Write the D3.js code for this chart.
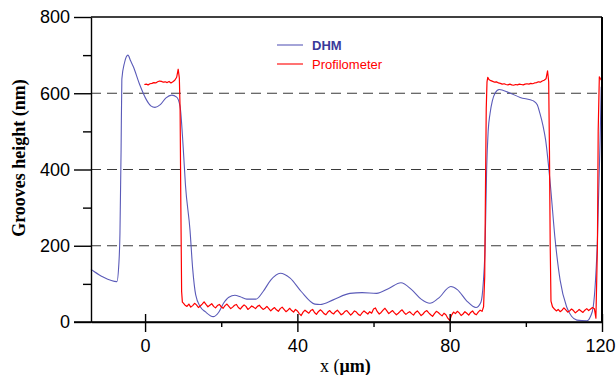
<!DOCTYPE html>
<html>
<head>
<meta charset="utf-8">
<script src="https://cdn.jsdelivr.net/npm/d3@7"></script>
<style>
  body { margin: 0; background: #fff; }
  svg { display: block; }
</style>
</head>
<body>
<div id="chart"></div>
<script>
// DHM trace (x in um, height in nm)
const dhmX = [-14.2, -13.9, -11, -7.4, -6.9, -6.6, -6.3, -6.1, -5.4, -4.5, -3.8, -3.1, -1.5, 0.4, 1.5, 2.6, 4.0, 5.5, 7.0, 8.3, 9.2, 10.0, 10.6,
  11.8, 12.5, 13.3, 14.5, 15.8, 17.9, 19.3, 20.6, 22, 23.6, 25, 26.7, 29.1, 31, 33, 35.5, 38.1, 41, 44.6, 46, 49.4, 53.8, 57, 60.8,
  64, 67.2, 70, 72.5, 74.8, 77, 80.3, 82, 84.5, 86.9, 88.2, 88.8, 89.3, 89.7, 90.1, 90.6, 91.2, 91.9, 93, 95.5, 98.5, 102, 103.0,
  103.7, 104.5, 105.2, 106.4, 107.7, 109, 110.7, 112, 113.4, 116, 117.0, 117.7, 118.3, 118.8, 119.5, 119.8];
const dhmY = [138, 136, 118, 106, 150, 230, 450, 637, 680, 700, 685, 670, 625, 582, 567, 563, 570, 588, 595, 590, 565, 460, 360,
  241, 140, 71, 40, 27, 14, 25, 49, 65, 70, 66, 60, 60, 80, 110, 128, 115, 80, 47, 46, 58, 75, 77, 75,
  88, 103, 85, 60, 49, 62, 93, 85, 55, 38, 52, 100, 199, 399, 500, 547, 580, 600, 610, 602, 589, 580, 570,
  547, 515, 477, 364, 215, 110, 40, 15, 5, 3, 15, 40, 110, 215, 477, 617];

// Profilometer trace: sampled runs (start x, step, heights) plus the steep edges
const profStep = 0.5;
const profPlateau1 = { start: -0.2, values: [623, 624, 622, 625, 626, 628, 627, 630, 632, 631, 629, 630, 628, 631, 627, 630, 634, 642] };
const profEdge1X = [8.7, 9.0, 9.2, 9.4, 9.6, 9.8];
const profEdge1Y = [663, 640, 560, 300, 80, 52];
const profFloor1 = { start: 10, values: [
  50, 44, 41, 47, 39, 43, 49, 45, 38, 42, 47, 53, 46, 40, 44, 48, 41, 37, 43, 46,
  40, 36, 43, 47, 41, 35, 39, 44, 46, 38, 34, 40, 45, 41, 33, 37, 42, 39, 35, 41,
  44, 38, 33, 36, 41, 35, 29, 34, 38, 32, 28, 35, 39, 33, 27, 31, 36, 30, 26, 33,
  29, 22, 17, 26, 31, 27, 23, 30, 33, 25, 20, 27, 32, 28, 22, 19, 26, 30, 24, 21,
  27, 31, 25, 19, 22, 28, 30, 24, 18, 23, 29, 26, 20, 17, 24, 29, 25, 21, 27, 23,
  34, 37, 27, 21, 25, 31, 36, 29, 22, 26, 30, 24, 19, 23, 28, 32, 25, 20, 24, 27,
  22, 18, 25, 29, 23, 17, 21, 27, 30, 24, 19, 15, 22, 28, 25, 20, 16, 23, 19, 10,
  4, 18, 26, 22, 28, 24, 17, 21, 27, 23, 18, 25, 29, 22, 19, 26, 31, 28] };
const profEdge2X = [88.9, 89.2, 89.4, 89.6, 89.8, 90.0];
const profEdge2Y = [40, 120, 350, 560, 630, 642];
const profPlateau2 = { start: 90.3, values: [636, 633, 631, 629, 630, 627, 626, 624, 625, 623, 622, 624, 622, 621, 623, 622,
  624, 623, 622, 624, 625, 624, 626, 625, 627, 628, 630, 629, 632, 634, 638] };
const profEdge3X = [105.7, 106.0, 106.2, 106.4, 106.6];
const profEdge3Y = [659, 630, 450, 200, 55];
const profFloor2 = { start: 107, values: [40, 34, 29, 33, 27, 31, 37, 32, 26, 29, 34, 30, 24, 28, 33, 29, 25, 31, 35, 30, 34, 38] };
const profEdge4X = [118.0, 118.4, 118.8, 119.0, 119.3, 119.6, 120];
const profEdge4Y = [35, 10, 200, 500, 643, 638, 632];

const yMajor = [0, 200, 400, 600, 800];
const yMinor = [100, 300, 500, 700];
const yGrid = [200, 400, 600];
const xMajor = [0, 40, 80, 120];
const xMinor = [20, 60, 100];
const seriesNames = ['DHM', 'Profilometer'];
const seriesColors = ['#5a5ab8', '#ff0000'];

const width = 616, height = 375;
const margin = { top: 17, right: 14, bottom: 53, left: 91 };

const svg = d3.select('#chart').append('svg')
  .attr('width', width)
  .attr('height', height);

const x = d3.scaleLinear().domain([-14.2, 120]).range([margin.left, width - margin.right]);
const y = d3.scaleLinear().domain([0, 800]).range([height - margin.bottom, margin.top]);

function run(r) {
  return r.values.map((v, i) => [r.start + i * profStep, v]);
}
function pairs(xs, ys) {
  return xs.map((v, i) => [v, ys[i]]);
}

const dhm = pairs(dhmX, dhmY);
const prof = [].concat(
  run(profPlateau1), pairs(profEdge1X, profEdge1Y), run(profFloor1), pairs(profEdge2X, profEdge2Y),
  run(profPlateau2), pairs(profEdge3X, profEdge3Y), run(profFloor2), pairs(profEdge4X, profEdge4Y));

// dashed grid
svg.selectAll('.y-grid')
  .data(yGrid)
  .enter()
  .append('line')
  .attr('class', 'y-grid')
  .attr('x1', x.range()[0])
  .attr('x2', x.range()[1])
  .attr('y1', d => y(d))
  .attr('y2', d => y(d))
  .attr('stroke', '#3a3a3a')
  .attr('stroke-width', 1.2)
  .attr('stroke-dasharray', '10,6');

// lines
svg.append('path')
  .datum(dhm)
  .attr('fill', 'none')
  .attr('stroke', seriesColors[0])
  .attr('stroke-width', 1.1)
  .attr('d', d3.line().x(d => x(d[0])).y(d => y(d[1])).curve(d3.curveMonotoneX));

svg.append('path')
  .datum(prof)
  .attr('fill', 'none')
  .attr('stroke', seriesColors[1])
  .attr('stroke-width', 1.2)
  .attr('stroke-linejoin', 'round')
  .attr('d', d3.line().x(d => x(d[0])).y(d => y(d[1])));

// axes
const tickFont = '"Liberation Sans", Arial, sans-serif';
const y0 = y(0);

svg.append('g')
  .attr('transform', `translate(${margin.left},0)`)
  .call(d3.axisLeft(y).tickValues(yMajor).tickSize(17).tickSizeOuter(0).tickPadding(4))
  .call(g => g.selectAll('text').attr('font-size', 18).attr('font-family', tickFont).attr('fill', '#000'));
svg.append('g')
  .attr('transform', `translate(${margin.left},0)`)
  .call(d3.axisLeft(y).tickValues(yMinor).tickSize(8).tickFormat(''))
  .call(g => g.select('.domain').remove());

svg.append('g')
  .attr('transform', `translate(0,${y0})`)
  .call(d3.axisBottom(x).tickValues(xMajor).tickSize(10).tickSizeOuter(0).tickPadding(7))
  .call(g => g.selectAll('text').attr('font-size', 18).attr('font-family', tickFont).attr('fill', '#000'))
  .call(g => g.selectAll('text').filter(d => d === 120).attr('dx', -2));
svg.append('g')
  .attr('transform', `translate(0,${y0})`)
  .call(d3.axisTop(x).tickValues(xMajor).tickSize(8).tickFormat(''))
  .call(g => g.select('.domain').remove());
svg.append('g')
  .attr('transform', `translate(0,${y0})`)
  .call(d3.axisBottom(x).tickValues(xMinor).tickSize(5).tickFormat(''))
  .call(g => g.select('.domain').remove());

svg.selectAll('.domain, .tick line').attr('stroke', '#000').attr('stroke-width', 1.4);

// extend bottom axis line to the left like the original
svg.append('line')
  .attr('x1', margin.left - 17).attr('x2', x.range()[1])
  .attr('y1', y0).attr('y2', y0)
  .attr('stroke', '#000').attr('stroke-width', 1.6);

// top and right frame
svg.append('line')
  .attr('x1', margin.left).attr('x2', x.range()[1])
  .attr('y1', y(800)).attr('y2', y(800))
  .attr('stroke', '#000').attr('stroke-width', 1.6);
svg.append('line')
  .attr('x1', x.range()[1]).attr('x2', x.range()[1])
  .attr('y1', y(800)).attr('y2', y0)
  .attr('stroke', '#000').attr('stroke-width', 2);

// axis titles
const xt = svg.append('text')
  .attr('x', 320)
  .attr('y', 372)
  .attr('font-family', '"Liberation Serif", "Times New Roman", serif')
  .attr('font-size', 18)
  .attr('fill', '#000');
xt.append('tspan').text('x (');
xt.append('tspan').attr('font-weight', 'bold').text('\u03bcm)');

svg.append('text')
  .attr('transform', 'translate(25,158) rotate(-90)')
  .attr('text-anchor', 'middle')
  .attr('font-family', '"Liberation Serif", "Times New Roman", serif')
  .attr('font-weight', 'bold')
  .attr('font-size', 18)
  .attr('fill', '#000')
  .text('Grooves height (nm)');

// legend
const legendY = [45, 64];
const legend = svg.selectAll('.legend')
  .data(seriesNames)
  .enter()
  .append('g')
  .attr('class', 'legend')
  .attr('transform', (d, i) => `translate(277,${legendY[i]})`);
legend.append('line')
  .attr('x1', 0).attr('x2', 26)
  .attr('stroke', (d, i) => seriesColors[i])
  .attr('stroke-width', 1.1);
legend.append('text')
  .attr('x', 35)
  .attr('y', 5)
  .attr('font-family', tickFont)
  .attr('font-size', 13)
  .attr('font-weight', (d, i) => i === 0 ? 'bold' : 'normal')
  .attr('fill', (d, i) => i === 0 ? '#3a3a9a' : '#ff0000')
  .text(d => d);
</script>
</body>
</html>
